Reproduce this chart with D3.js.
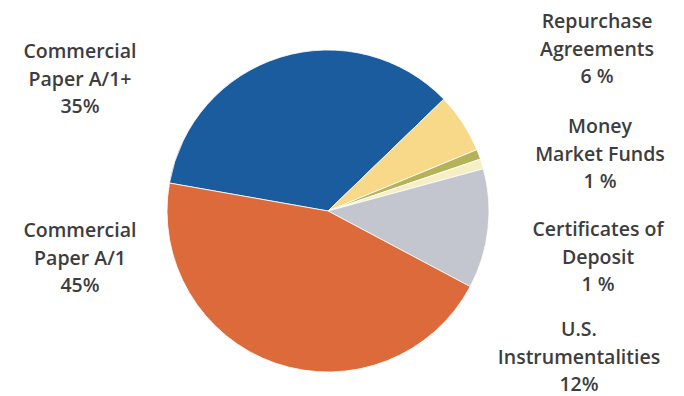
<!DOCTYPE html>
<html>
<head>
<meta charset="utf-8">
<script src="https://cdn.jsdelivr.net/npm/d3@7"></script>
<style>
  body { margin: 0; background: #fff; }
  svg text { font-family: "Open Sans", sans-serif; font-weight: 600; fill: #3d3d3d; }
</style>
</head>
<body>
<div id="chart"></div>
<script>
// slice order goes clockwise starting with the blue slice
const categories = ["Commercial Paper A/1+", "Repurchase Agreements", "Money Market Funds",
                    "Certificates of Deposit", "U.S. Instrumentalities", "Commercial Paper A/1"];
const values = [35, 6, 1, 1, 12, 45];
const colors = ["#1b5c9e", "#f8d98a", "#b5b25a", "#f6efc4", "#c3c6cf", "#dc6a3a"];

// label lines as printed, with where each block sits
const labelLines = [
    ["Commercial", "Paper A/1+", "35%"],
    ["Repurchase", "Agreements", "6 %"],
    ["Money", "Market Funds", "1 %"],
    ["Certificates of", "Deposit", "1 %"],
    ["U.S.", "Instrumentalities", "12%"],
    ["Commercial", "Paper A/1", "45%"]
];
const labelPos = [[80, 50], [597, 20], [600, 125], [598, 228], [579, 328], [80, 229]];

const width = 684, height = 396;
const cx = 328, cy = 211, radius = 161;

let svg = d3.select("#chart").append("svg")
    .attr("width", width)
    .attr("height", height);

let pie = d3.pie()
    .sort(null)
    .startAngle(-80 * Math.PI / 180)
    .endAngle(280 * Math.PI / 180);

let arc = d3.arc().innerRadius(0).outerRadius(radius);

svg.append("g")
    .attr("transform", `translate(${cx},${cy})`)
    .selectAll("path")
    .data(pie(values))
    .join("path")
    .attr("d", arc)
    .attr("fill", (d, i) => colors[i])
    .attr("stroke", "#fff")
    .attr("stroke-width", 0.8);

let labels = svg.append("g")
    .selectAll("text")
    .data(categories)
    .join("text")
    .attr("text-anchor", "middle")
    .attr("font-size", 19.5)
    .attr("x", (d, i) => labelPos[i][0])
    .attr("y", (d, i) => labelPos[i][1])
    .attr("dominant-baseline", "central");

labels.each(function(d, i) {
    d3.select(this).selectAll("tspan")
        .data(labelLines[i])
        .join("tspan")
        .attr("x", labelPos[i][0])
        .attr("dy", (t, j) => j === 0 ? 0 : 27.5)
        .text(t => t);
});
</script>
</body>
</html>
